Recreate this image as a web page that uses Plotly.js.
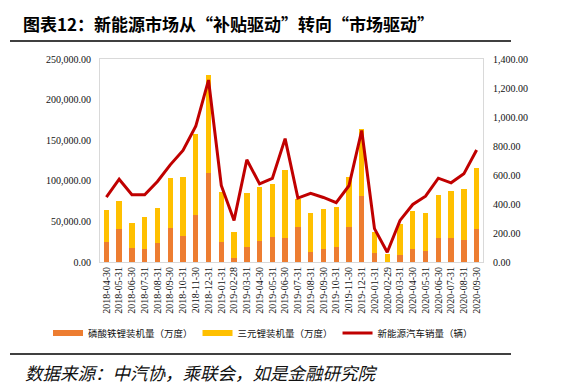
<!DOCTYPE html>
<html><head><meta charset="utf-8">
<script src="https://cdn.plot.ly/plotly-3.0.1.min.js"></script>
<style>html,body{margin:0;padding:0;background:#fff}#c{width:578px;height:391px}</style>
</head><body><div id="c"></div>
<script>
const dates = ["2018-04-30","2018-05-31","2018-06-30","2018-07-31","2018-08-31","2018-09-30","2018-10-31","2018-11-30","2018-12-31","2019-01-31","2019-02-28","2019-03-31","2019-04-30","2019-05-31","2019-06-30","2019-07-31","2019-08-31","2019-09-30","2019-10-31","2019-11-30","2019-12-31","2020-01-31","2020-02-29","2020-03-31","2020-04-30","2020-05-31","2020-06-30","2020-07-31","2020-08-31","2020-09-30"];
const lfp = [24200,40200,16800,15600,23000,41400,32000,57400,109000,25000,5300,18000,25400,30300,29500,42600,12300,15600,18000,42600,81100,10700,500,8600,15600,13500,29100,29500,26600,40200];
const ternary = [39300,34400,31200,39300,43400,61500,73300,100000,121300,61000,31600,67200,66800,65600,83200,34400,47500,49200,50000,62700,83200,25800,9700,38500,47500,47200,52900,57800,62700,75800];
const sales = [448,571,464,464,555,670,769,936,1255,528,287,705,539,576,851,441,473,445,409,526,907,230,67,287,397,454,578,546,608,773];
const names = ["磷酸铁锂装机量（万度）","三元锂装机量（万度）","新能源汽车销量（辆）"];
const colors = ["#ED7D31","#FFC000","#C00000"];

const traces = [
  {type:"bar", x:dates, y:lfp, name:names[0], marker:{color:colors[0]}, showlegend:false, yaxis:"y"},
  {type:"bar", x:dates, y:ternary, name:names[1], marker:{color:colors[1]}, showlegend:false, yaxis:"y"},
  {type:"scatter", mode:"lines", x:dates, y:sales, name:names[2], line:{color:colors[2], width:3}, showlegend:false, yaxis:"y2"},
  {type:"scatter", mode:"lines", x:[null], y:[null], name:names[0], line:{color:colors[0], width:6}, yaxis:"y", hoverinfo:"skip"},
  {type:"scatter", mode:"lines", x:[null], y:[null], name:names[1], line:{color:colors[1], width:6}, yaxis:"y", hoverinfo:"skip"},
  {type:"scatter", mode:"lines", x:[null], y:[null], name:names[2], line:{color:colors[2], width:3}, yaxis:"y", hoverinfo:"skip"}
];
const tickFont = {family:"Liberation Serif, Times New Roman, serif", size:10, color:"#111"};
const W=383, L=100, T=59, H=203, B=262;
const px = v => (v-L)/W;
const py = v => (B-v)/H;
const layout = {
  width:578, height:391,
  margin:{l:100, r:95, t:59, b:129},
  paper_bgcolor:"#fff", plot_bgcolor:"#fff",
  barmode:"stack", bargap:0.58,
  showlegend:true,
  title:{text:"<b>图表12：新能源市场从“补贴驱动”转向“市场驱动”</b>", x:23/578, xref:"container", xanchor:"left", y:1-25/391, yref:"container", yanchor:"middle",
         font:{family:"Noto Sans CJK SC", size:17, color:"#000"}},
  xaxis:{type:"category", tickangle:-90, tickfont:tickFont, showgrid:false, zeroline:false,
         showline:true, linecolor:"#d9d9d9", linewidth:1, mirror:true, ticks:"", automargin:false, fixedrange:true},
  yaxis:{range:[0,250000], dtick:50000, tickformat:",.2f", tickfont:tickFont, showgrid:false, zeroline:false,
         showline:true, linecolor:"#d9d9d9", linewidth:1, mirror:true, ticks:"", ticklabelstandoff:6, automargin:false},
  yaxis2:{range:[0,1400], dtick:200, tickformat:",.2f", tickfont:tickFont, overlaying:"y", side:"right", showgrid:false, zeroline:false,
         showline:false, ticks:"", ticklabelstandoff:9, automargin:false},
  legend:{orientation:"h", x:px(48), xanchor:"left", y:py(333), yanchor:"middle",
          font:{family:"Noto Sans CJK SC", size:9.5, color:"#111"}, bgcolor:"rgba(0,0,0,0)", traceorder:"normal", itemwidth:30},
  shapes:[
    {type:"line", xref:"paper", yref:"paper", x0:px(10), x1:px(511), y0:py(41), y1:py(41), line:{color:"#000", width:1.5}},
    {type:"line", xref:"paper", yref:"paper", x0:px(10), x1:px(511), y0:py(354), y1:py(354), line:{color:"#000", width:1.5}}
  ],
  annotations:[
    {text:"<i>数据来源：中汽协，乘联会，如是金融研究院</i>", xref:"paper", yref:"paper", x:px(23), y:py(372), xanchor:"left", yanchor:"middle", showarrow:false,
     font:{family:"Noto Sans CJK SC", size:17.5, color:"#111"}}
  ]
};
Plotly.newPlot("c", traces, layout, {displayModeBar:false, staticPlot:true});
</script></body></html>
